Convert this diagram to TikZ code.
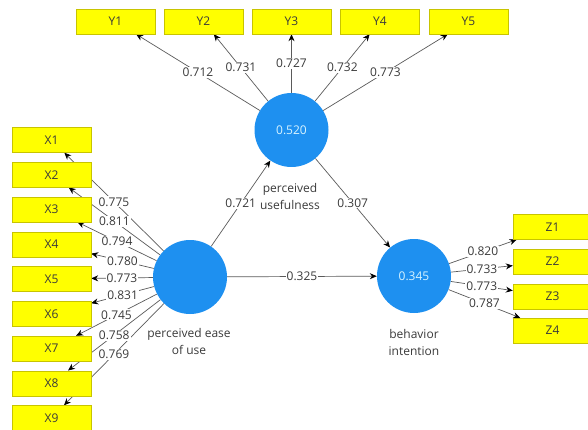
\documentclass[tikz,border=0pt]{standalone}
\usepackage{fontspec}
\setmainfont{Open Sans}
\usetikzlibrary{arrows.meta}
\pgfdeclarelayer{bg}
\pgfsetlayers{bg,main}
\definecolor{boxfill}{HTML}{FFFF00}
\definecolor{boxline}{HTML}{C8C400}
\definecolor{lvfill}{HTML}{1E90F0}
\definecolor{lvtext}{HTML}{D8F4FF}
\definecolor{edgec}{HTML}{5A5A5A}
\definecolor{txt}{HTML}{3A3A3A}
\tikzset{
  fnt/.style={font=\fontsize{12}{14}\selectfont},
  ind/.style={draw=boxline, fill=boxfill, minimum width=79pt, minimum height=25pt, inner sep=0pt, text=txt, fnt},
  lv/.style={circle, fill=lvfill, minimum size=74pt, inner sep=0pt, text=lvtext, fnt},
  arr/.style={draw=edgec, line width=0.7pt, -{Stealth[length=7pt,width=6pt,black]}},
  lbl/.style={fill=white, inner sep=1pt, text=txt, fnt},
  lvcaption/.style={text=txt, align=center, inner sep=0pt, font=\fontsize{12}{17}\selectfont}
}
\begin{document}
\begin{tikzpicture}[x=1pt,y=-1pt]
\useasboundingbox (0,0) rectangle (588,430);
% latent variables
\node[lv] (pu) at (291.5,130) {0.520};
\node[lv] (peou) at (190,277) {};
\node[lv] (bi) at (414,276) {0.345};
\node[lvcaption] (pucap) at (290,196.5) {perceived\\usefulness};
\node[lvcaption] (peoucap) at (189,341) {perceived ease\\of use};
\node[lvcaption] (bicap) at (414,342.5) {behavior\\intention};
% indicator boxes
\foreach \n/\x in {1/115.5,2/203.5,3/291.5,4/380,5/468.5}
  \node[ind] (y\n) at (\x,21.5) {Y\n};
\foreach \n in {1,...,9}
  \node[ind] (x\n) at (51.5,{140+34.75*(\n-1)}) {X\n};
\foreach \n/\y in {1/227,2/261.5,3/296.5,4/330.5}
  \node[ind] (z\n) at (552.5,\y) {Z\n};
% connectors
\begin{pgfonlayer}{bg}
\foreach \n in {1,...,5} \draw[arr] (pu) -- (y\n);
\foreach \n in {1,...,9} \draw[arr] (peou) -- (x\n);
\foreach \n in {1,...,4} \draw[arr] (bi) -- (z\n);
\draw[arr] (peou) -- (pu);
\draw[arr] (pu) -- (bi);
\draw[arr] (peou) -- (bi);
\end{pgfonlayer}
% loadings
\foreach \n/\v in {1/0.712,2/0.731,3/0.727,4/0.732,5/0.773}
  \path (pu) -- (y\n) node[midway,lbl] {\v};
\foreach \n/\v in {1/0.775,2/0.811,3/0.794,4/0.780,5/0.773,6/0.831,7/0.745,8/0.758,9/0.769}
  \path (peou) -- (x\n) node[midway,lbl] {\v};
\foreach \n/\v in {1/0.820,2/0.733,3/0.773,4/0.787}
  \path (bi) -- (z\n) node[midway,lbl] {\v};
\path (peou) -- (pu) node[midway,lbl] {0.721};
\path (pu) -- (bi) node[midway,lbl] {0.307};
\path (peou) -- (bi) node[midway,lbl] {0.325};
\end{tikzpicture}
\end{document}
